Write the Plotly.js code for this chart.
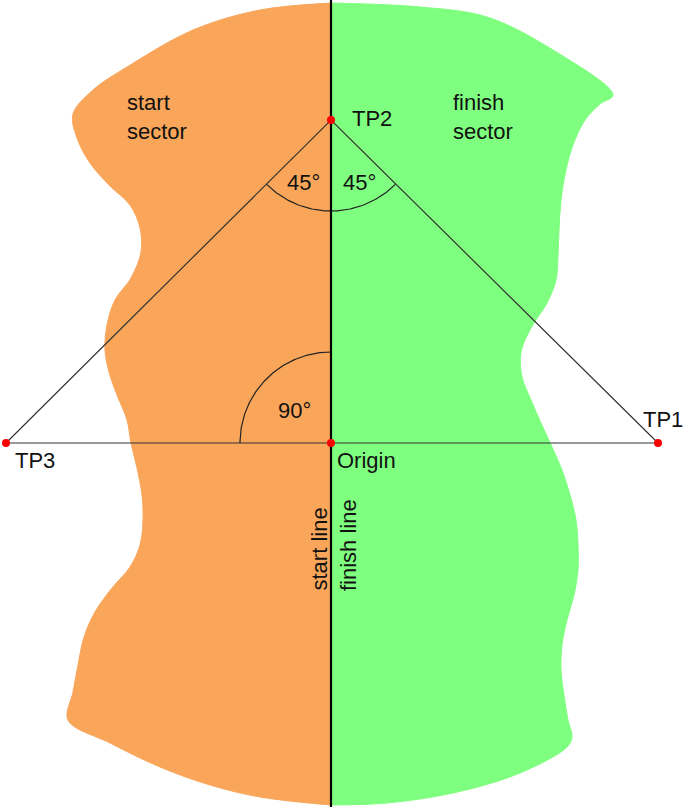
<!DOCTYPE html>
<html>
<head>
<meta charset="utf-8">
<script src="https://cdn.plot.ly/plotly-3.0.1.min.js"></script>
<style>html,body{margin:0;padding:0;background:#fff;}#chart{width:684px;height:807px;}</style>
</head>
<body>
<div id="chart"></div>
<script>
// Coordinates: origin at "Origin", x to the right, y upwards (units ~ pixels)
// outline points (pixel x - 331, 443 - pixel y)
const startSectorX = [0,-71,-138,-204,-238,-258,-254,-241,-221,-201,-191,-190,-200,-216,-224,-226,-222,-214,-204,-200,-194,-189,-188,-191,-201,-219,-236,-247,-253,-258,-263,-221,-171,-121,-71,0];
const startSectorY = [440,433,413,376,353,329,305,280,257,238,215,191,165,143,118,93,71,48,23,0,-25,-52,-77,-102,-124,-145,-169,-194,-222,-249,-277,-300,-324,-342,-354,-362];
const finishSectorX = [0,89,156,222,282,269,254,242,235,230,228,227,225,216,200,190,191,200,210,221,231,239,245,247,247,243,236,231,230,233,237,241,236,189,122,56,0];
const finishSectorY = [440,436,426,393,348,339,323,298,273,243,213,188,163,140,115,91,66,43,20,-4,-27,-52,-77,-102,-127,-152,-177,-202,-227,-252,-277,-294,-304,-330,-350,-360,-362];

const pointNames = ["TP1","TP2","TP3","Origin"];
const pointX = [327, 0, -325, 0];
const pointY = [0, 323, 0, 0];

const lineX = [0, 0];          // start / finish line
const lineY = [443, -364];

const arcCenterX = [0, 0];      // TP2 arc, Origin arc
const arcCenterY = [323, 0];
const arcRadius = [91, 91];
const arcStartDeg = [225, 90];
const arcEndDeg = [315, 180];

const labelTexts = ["start<br>sector","finish<br>sector","TP2","45°","45°","90°","TP3","Origin","TP1"];
const labelX = [-206, 120, 19, -46, 10, -55, -318, 4, 310];
const labelY = [326, 326, 325, 261, 261, 33, -17, -17, 24];

const rotTexts = ["start line","finish line"];
const rotX = [-12, 17];
const rotY = [-150, -150];

const traces = [];
traces.push({x:startSectorX, y:startSectorY, mode:'lines', fill:'toself', fillcolor:'#f9a65a',
  line:{shape:'spline', smoothing:1, width:1, color:'#f9a65a', simplify:false}, hoverinfo:'skip'});
traces.push({x:finishSectorX, y:finishSectorY, mode:'lines', fill:'toself', fillcolor:'#7fff7f',
  line:{shape:'spline', smoothing:1, width:1, color:'#7fff7f', simplify:false}, hoverinfo:'skip'});

// triangle TP3 -> TP2 -> TP1 -> TP3
const tri = [2,1,0,2];
traces.push({x:tri.map(i=>pointX[i]), y:tri.map(i=>pointY[i]), mode:'lines',
  line:{color:'#333', width:1.2}, hoverinfo:'skip'});

// angle arcs
for (let k=0;k<arcRadius.length;k++){
  const ax=[], ay=[];
  for (let a=arcStartDeg[k]; a<=arcEndDeg[k]; a+=1){
    const r = a*Math.PI/180;
    ax.push(arcCenterX[k]+arcRadius[k]*Math.cos(r));
    ay.push(arcCenterY[k]+arcRadius[k]*Math.sin(r));
  }
  traces.push({x:ax, y:ay, mode:'lines', line:{color:'#222', width:1.2}, hoverinfo:'skip'});
}

traces.push({x:lineX, y:lineY, mode:'lines', line:{color:'#000', width:2.2}, hoverinfo:'skip'});

traces.push({x:pointX, y:pointY, mode:'markers', text:pointNames,
  marker:{color:'#ff0000', size:8}, hoverinfo:'text'});

const font = {family:'"Liberation Sans", Arial, sans-serif', size:22, color:'#111'};
const annotations = labelTexts.map((t,i)=>({x:labelX[i], y:labelY[i], text:t, showarrow:false,
  xanchor:'left', yanchor:'middle', align:'left', font:font}));
rotTexts.forEach((t,i)=>annotations.push({x:rotX[i], y:rotY[i], text:t, showarrow:false,
  textangle:-90, xanchor:'center', yanchor:'bottom', font:font}));

const layout = {
  width:684, height:807,
  margin:{l:0,r:0,t:0,b:0},
  paper_bgcolor:'#fff', plot_bgcolor:'#fff',
  showlegend:false,
  xaxis:{range:[-331,353], visible:false, fixedrange:true},
  yaxis:{range:[-364,443], visible:false, fixedrange:true},
  annotations:annotations
};
Plotly.newPlot('chart', traces, layout, {staticPlot:true});
</script>
</body>
</html>
